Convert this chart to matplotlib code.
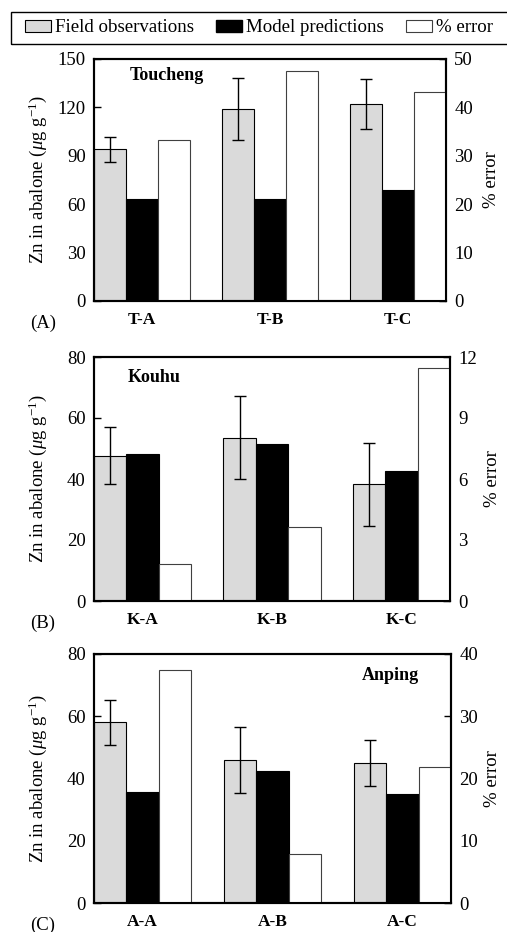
import numpy as np
import matplotlib
matplotlib.use("Agg")
import matplotlib.pyplot as plt
from matplotlib.patches import Patch, Rectangle

plt.rcParams['font.family'] = ['Liberation Serif', 'DejaVu Serif']
plt.rcParams['mathtext.fontset'] = 'custom'
plt.rcParams['mathtext.rm'] = 'Liberation Serif'
plt.rcParams['mathtext.it'] = 'Liberation Serif:italic'

# ---- data
sites_A = ["T-A", "T-B", "T-C"]
field_A = [94, 119, 122]
field_err_A = [7.6, 19, 15.3]
model_A = [63, 63, 69]
pct_A = [33.2, 47.5, 43.2]

sites_B = ["K-A", "K-B", "K-C"]
field_B = [47.6, 53.6, 38.2]
field_err_B = [9.4, 13.5, 13.5]
model_B = [48.3, 51.6, 42.5]
pct_B = [1.83, 3.63, 11.45]

sites_C = ["A-A", "A-B", "A-C"]
field_C = [58.0, 45.9, 45.0]
field_err_C = [7.3, 10.6, 7.3]
model_C = [35.8, 42.5, 34.9]
pct_C = [37.5, 7.9, 21.8]

W, H = 507, 932
fig = plt.figure(figsize=(W / 100, H / 100), dpi=100)
GRAY = "#DADADA"

def px_axes(l, t, r, b):
    return fig.add_axes([l / W, 1 - b / H, (r - l) / W, (b - t) / H])

panels = [
    # box (px), sites, field, err, model, pct, yl, yticks, pct lim, pct ticks, title, title pos, tag
    ((94, 59, 446, 301), sites_A, field_A, field_err_A, model_A, pct_A, 150, np.arange(0, 151, 30),
     50, np.arange(0, 51, 10), "Toucheng", (130, 75), "(A)"),
    ((94, 357, 450, 601), sites_B, field_B, field_err_B, model_B, pct_B, 80, np.arange(0, 81, 20),
     12, np.arange(0, 13, 3), "Kouhu", (128, 377), "(B)"),
    ((94, 654, 451, 903), sites_C, field_C, field_err_C, model_C, pct_C, 80, np.arange(0, 81, 20),
     40, np.arange(0, 41, 10), "Anping", (362, 675), "(C)"),
]

for (box, sites, fld, err, mdl, pct, ylim, yt, plim, pt, title, tpos, tag) in panels:
    ax = px_axes(*box)
    ax2 = ax.twinx()
    x0 = np.arange(len(sites)) * 4
    ax.bar(x0 + 0.5, fld, width=1, color=GRAY, edgecolor="black", linewidth=0.8, zorder=2)
    ax.errorbar(x0 + 0.5, fld, yerr=err, fmt="none", ecolor="black", elinewidth=1.0,
                capsize=4, capthick=1.0, zorder=3)
    ax.bar(x0 + 1.5, mdl, width=1, color="black", edgecolor="black", linewidth=0.8, zorder=2)
    ax2.bar(x0 + 2.5, pct, width=1, color="white", edgecolor="#404040", linewidth=0.8, zorder=2)

    ax.set_xlim(0, 11)
    ax.set_ylim(0, ylim)
    ax2.set_ylim(0, plim)
    ax.set_yticks(yt)
    ax2.set_yticks(pt)
    ax.set_xticks(x0 + 1.5)
    ax.set_xticklabels(sites, fontweight="bold", fontsize=12.5)
    ax.tick_params(axis="x", length=0, pad=8)
    ax.tick_params(axis="y", direction="in", length=5, width=1, labelsize=13.5, pad=6)
    ax2.tick_params(axis="y", direction="in", length=5, width=1, labelsize=13.5, pad=6)
    for a in (ax, ax2):
        for sp in a.spines.values():
            sp.set_linewidth(1.5)
    wpx = box[2] - box[0]
    ax.set_ylabel(r"Zn in abalone ($\mu$g g$^{\mathregular{-1}}$)", fontsize=13.5, va="center")
    ax.yaxis.set_label_coords((38 - box[0]) / wpx, 0.5)
    ax2.set_ylabel("% error", fontsize=13.5, va="center")
    ax2.yaxis.set_label_coords((492 - box[0]) / wpx, 0.5)
    fig.text(tpos[0] / W, 1 - tpos[1] / H, title, fontweight="bold", fontsize=13,
             ha="left", va="center")
    fig.text(30 / W, 1 - (box[3] + 22) / H, tag, fontsize=13.5, ha="left", va="center")

# legend frame runs off the right edge, as in the original
fig.patches.append(Rectangle((11 / W, 1 - 44 / H), 520 / W, 32 / H, transform=fig.transFigure,
                             facecolor="none", edgecolor="black", linewidth=1.0))
handles = [Patch(facecolor=GRAY, edgecolor="black", linewidth=0.8),
           Patch(facecolor="black", edgecolor="black"),
           Patch(facecolor="white", edgecolor="#404040", linewidth=0.8)]
leg = fig.legend(handles, ["Field observations", "Model predictions", "% error"],
                 ncol=3, loc="center left", bbox_to_anchor=(25 / W, 1 - 28 / H),
                 fontsize=13.6, frameon=False,
                 handlelength=1.4, handleheight=0.65, handletextpad=0.2, columnspacing=1.15,
                 borderpad=0, borderaxespad=0)

fig.savefig("out.png", dpi=100)
